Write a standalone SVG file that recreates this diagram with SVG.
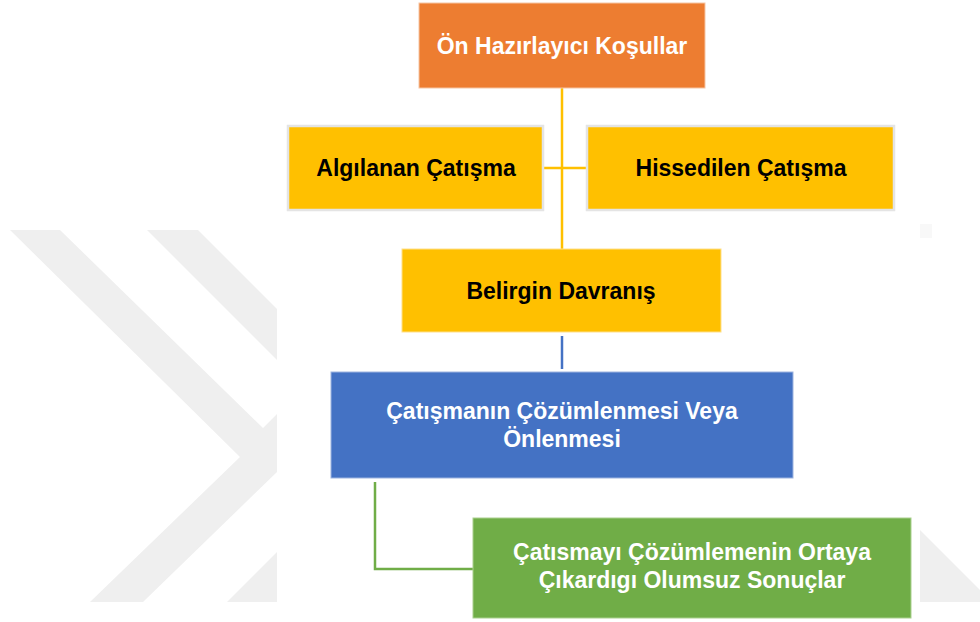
<svg xmlns="http://www.w3.org/2000/svg" width="980" height="622" viewBox="0 0 980 622">
  <defs>
    <style>
      .t { font-family: "Liberation Sans", Arial, sans-serif; font-weight: bold; font-size: 23px; text-anchor: middle; }
      .dark { fill: #000000; }
      .light { fill: #ffffff; }
      .wm { fill: #efefef; }
      .conn { fill: none; stroke-width: 2.5; }
    </style>
    <clipPath id="clipL"><rect x="0" y="222" width="277" height="382"/></clipPath>
    <clipPath id="clipR"><rect x="920" y="222" width="60" height="382"/></clipPath>
  </defs>
  <rect x="0" y="0" width="980" height="622" fill="#ffffff"/>

  <g id="watermark">
    <g clip-path="url(#clipL)">
      <polygon class="wm" points="10,230 60,230 263,428 277,414 277,472 143,602 90,602 240,457"/>
      <polygon class="wm" points="147,230 198,230 277,309 277,360"/>
      <polygon class="wm" points="227,602 277,602 277,552"/>
    </g>
    <g clip-path="url(#clipR)">
      <polygon class="wm" points="920,530 980,590 980,602 920,602"/>
      <polygon points="920,224 932,224 932,238 920,238" fill="#f8f8f8"/>
    </g>
  </g>

  <g id="connectors">
    <line class="conn" x1="562" y1="88" x2="562" y2="249" stroke="#FFC000"/>
    <line class="conn" x1="543" y1="168" x2="587" y2="168" stroke="#FFC000"/>
    <line class="conn" x1="562" y1="336" x2="562" y2="369" stroke="#4472C4"/>
    <polyline class="conn" points="375,482 375,569 473,569" stroke="#70AD47"/>
  </g>

  <g id="on-hazirlayici">
    <rect x="419" y="3" width="286" height="85" fill="#ED7D31" stroke="#f6c5a3" stroke-width="1"/>
    <text class="t light" x="562" y="54">Ön Hazırlayıcı Koşullar</text>
  </g>

  <g id="algilanan">
    <rect x="288" y="126" width="255" height="84" fill="#FFC000" stroke="#e4e4e4" stroke-width="2.5"/>
    <text class="t dark" x="416" y="176">Algılanan Çatışma</text>
  </g>

  <g id="hissedilen">
    <rect x="587" y="126" width="307" height="84" fill="#FFC000" stroke="#e4e4e4" stroke-width="2.5"/>
    <text class="t dark" x="741" y="176">Hissedilen Çatışma</text>
  </g>

  <g id="belirgin">
    <rect x="402" y="249" width="319" height="83" fill="#FFC000" stroke="#ffe08a" stroke-width="1"/>
    <text class="t dark" x="561" y="299">Belirgin Davranış</text>
  </g>

  <g id="cozumlenme">
    <rect x="331" y="372" width="462" height="106" fill="#4472C4" stroke="#9db4e0" stroke-width="1"/>
    <text class="t light" x="562" y="419">Çatışmanın Çözümlenmesi Veya</text>
    <text class="t light" x="562" y="447">Önlenmesi</text>
  </g>

  <g id="olumsuz">
    <rect x="473" y="518" width="438" height="100" fill="#70AD47" stroke="#a9d08e" stroke-width="1"/>
    <text class="t light" x="692" y="560">Çatısmayı Çözümlemenin Ortaya</text>
    <text class="t light" x="692" y="588">Çıkardıgı Olumsuz Sonuçlar</text>
  </g>
</svg>
